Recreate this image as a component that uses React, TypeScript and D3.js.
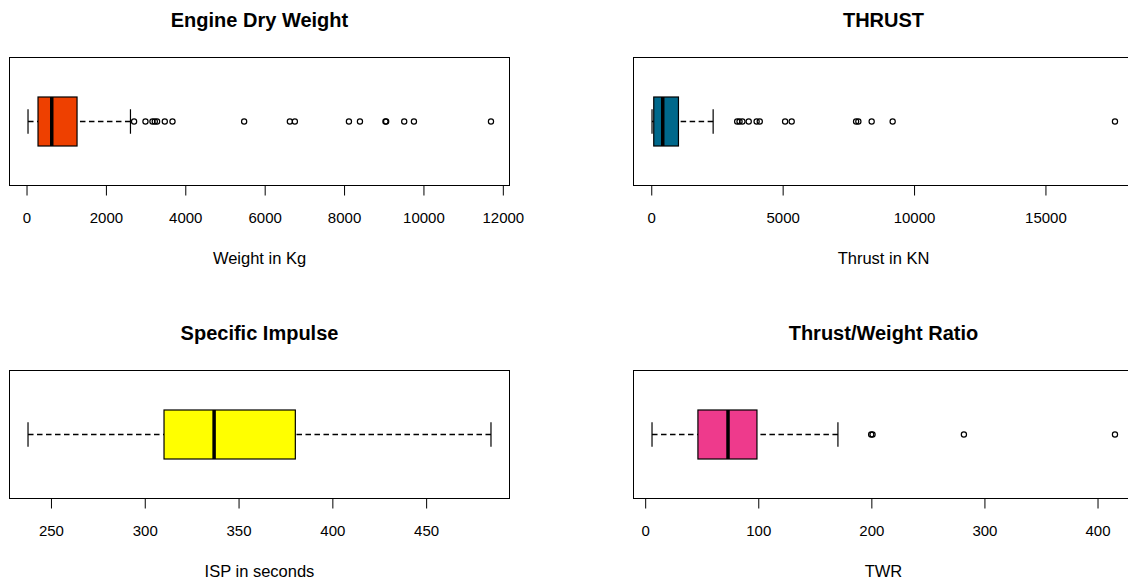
import React from "react";
import * as d3 from "d3";

// Five-number summaries: [lower whisker, Q1, median, Q3, upper whisker]
const weightStats = [25, 277, 623, 1260, 2606];
const weightOutliers = [
  2697, 2984, 3160, 3219, 3277, 3471, 3665, 5470, 6622, 6748, 8110, 8388,
  9030, 9048, 9503, 9748, 11689,
];
const weightTicks = [0, 2000, 4000, 6000, 8000, 10000, 12000];

const thrustStats = [10, 76, 418, 1016, 2336];
const thrustOutliers = [
  3250, 3340, 3450, 3690, 3990, 4110, 5074, 5325, 7775, 7862, 8368, 9167,
  17627,
];
const thrustTicks = [0, 5000, 10000, 15000];

const ispStats = [237.5, 310, 336.7, 380, 484.3];
const ispOutliers: number[] = [];
const ispTicks = [250, 300, 350, 400, 450];

const twrStats = [5.6, 46.2, 72.8, 98.4, 170];
const twrOutliers = [199.4, 200.6, 281.4, 415];
const twrTicks = [0, 100, 200, 300, 400];

const FONT = "'Liberation Sans', Arial, Helvetica, sans-serif";

type PanelProps = {
  x0: number;
  y0: number;
  title: string;
  xlabel: string;
  stats: number[];
  outliers: number[];
  ticks: number[];
  fill: string;
};

const W = 500;
const H = 128;

function Panel({ x0, y0, title, xlabel, stats, outliers, ticks, fill }: PanelProps) {
  const all = [stats[0], stats[4], ...outliers];
  const lo = d3.min(all) as number;
  const hi = d3.max(all) as number;
  const pad = (hi - lo) * 0.04;
  const x = d3.scaleLinear().domain([lo - pad, hi + pad]).range([x0, x0 + W]);

  const cy = y0 + H / 2;
  const boxHalf = 24.5;
  const capHalf = 12.25;
  const bottom = y0 + H;
  const [wLo, q1, med, q3, wHi] = stats;

  return (
    <g>
      <text
        x={x0 + W / 2}
        y={y0 - 31}
        textAnchor="middle"
        fontFamily={FONT}
        fontWeight="bold"
        fontSize={20}
        fill="#000"
      >
        {title}
      </text>

      {/* whiskers */}
      <line x1={x(wLo)} x2={x(q1)} y1={cy} y2={cy} stroke="#000" strokeWidth={1.3} strokeDasharray="5.5,3.5" />
      <line x1={x(wHi)} x2={x(q3)} y1={cy} y2={cy} stroke="#000" strokeWidth={1.3} strokeDasharray="5.5,3.5" />
      <line x1={x(wLo)} x2={x(wLo)} y1={cy - capHalf} y2={cy + capHalf} stroke="#000" strokeWidth={1.2} />
      <line x1={x(wHi)} x2={x(wHi)} y1={cy - capHalf} y2={cy + capHalf} stroke="#000" strokeWidth={1.2} />

      {/* box */}
      <rect
        x={x(q1)}
        y={cy - boxHalf}
        width={x(q3) - x(q1)}
        height={boxHalf * 2}
        fill={fill}
        stroke="#000"
        strokeWidth={1.2}
      />
      <line x1={x(med)} x2={x(med)} y1={cy - boxHalf} y2={cy + boxHalf} stroke="#000" strokeWidth={3.5} />

      {/* outliers */}
      {outliers.map((v, i) => (
        <circle key={i} cx={x(v)} cy={cy} r={2.6} fill="none" stroke="#000" strokeWidth={1.2} />
      ))}

      {/* frame */}
      <rect x={x0} y={y0} width={W} height={H} fill="none" stroke="#000" strokeWidth={1} />

      {/* x axis */}
      <line x1={x(ticks[0])} x2={x(ticks[ticks.length - 1])} y1={bottom} y2={bottom} stroke="#000" strokeWidth={1} />
      {ticks.map((t) => (
        <g key={t}>
          <line x1={x(t)} x2={x(t)} y1={bottom} y2={bottom + 10} stroke="#000" strokeWidth={1} />
          <text
            x={x(t)}
            y={bottom + 37.5}
            textAnchor="middle"
            fontFamily={FONT}
            fontSize={15}
            fill="#000"
          >
            {t}
          </text>
        </g>
      ))}
      <text
        x={x0 + W / 2}
        y={bottom + 78.5}
        textAnchor="middle"
        fontFamily={FONT}
        fontSize={16.5}
        fill="#000"
      >
        {xlabel}
      </text>
    </g>
  );
}

export default function App() {
  return (
    <div style={{ position: "absolute", left: 0, top: 0, width: 1128, height: 580, overflow: "hidden", background: "#fff" }}>
      <svg width={1128} height={580} style={{ display: "block" }}>
        <rect width={1128} height={580} fill="#fff" />
        <Panel
          x0={9.5}
          y0={57.5}
          title="Engine Dry Weight"
          xlabel="Weight in Kg"
          stats={weightStats}
          outliers={weightOutliers}
          ticks={weightTicks}
          fill="#EE4000"
        />
        <Panel
          x0={633.5}
          y0={57.5}
          title="THRUST"
          xlabel="Thrust in KN"
          stats={thrustStats}
          outliers={thrustOutliers}
          ticks={thrustTicks}
          fill="#00688B"
        />
        <Panel
          x0={9.5}
          y0={370.5}
          title="Specific Impulse"
          xlabel="ISP in seconds"
          stats={ispStats}
          outliers={ispOutliers}
          ticks={ispTicks}
          fill="#FFFF00"
        />
        <Panel
          x0={633.5}
          y0={370.5}
          title="Thrust/Weight Ratio"
          xlabel="TWR"
          stats={twrStats}
          outliers={twrOutliers}
          ticks={twrTicks}
          fill="#EE3A8C"
        />
      </svg>
    </div>
  );
}
